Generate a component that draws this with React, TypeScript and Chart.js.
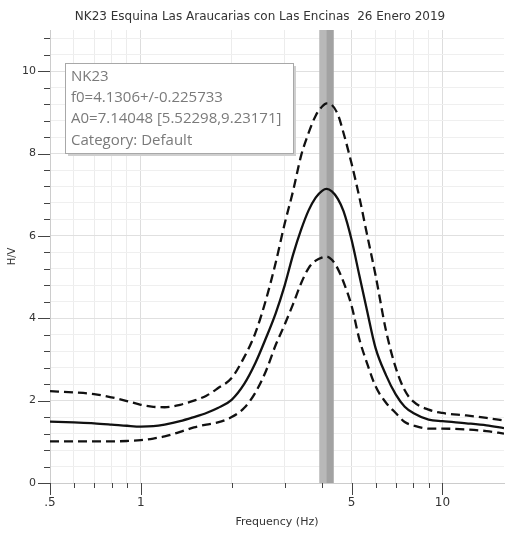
import { useEffect, useRef } from 'react';
import { Chart, registerables } from 'chart.js';

Chart.register(...registerables);

// ---- data ----
const chartTitle = 'NK23 Esquina Las Araucarias con Las Encinas  26 Enero 2019';
const xAxisTitle = 'Frequency (Hz)';
const yAxisTitle = 'H/V';

const frequencies = [0.5, 0.6, 0.7, 0.8, 0.9, 1.0, 1.1, 1.2, 1.35, 1.5, 1.65, 1.8, 2.0, 2.2, 2.4, 2.6, 2.8, 3.0, 3.2, 3.4, 3.6, 3.8, 4.0, 4.13, 4.3, 4.5, 4.7, 5.0, 5.3, 5.6, 6.0, 6.5, 7.0, 7.5, 8, 9, 10, 12, 14, 16];
const hvAverage = [1.49, 1.47, 1.45, 1.42, 1.39, 1.37, 1.38, 1.42, 1.50, 1.60, 1.70, 1.82, 2.02, 2.40, 2.92, 3.52, 4.12, 4.80, 5.55, 6.15, 6.62, 6.93, 7.10, 7.14, 7.08, 6.90, 6.60, 5.90, 5.05, 4.25, 3.28, 2.62, 2.15, 1.85, 1.70, 1.54, 1.50, 1.45, 1.40, 1.33];
const hvUpper = [2.23, 2.20, 2.16, 2.08, 1.99, 1.90, 1.85, 1.84, 1.90, 2.00, 2.12, 2.30, 2.55, 3.05, 3.65, 4.45, 5.35, 6.30, 7.10, 7.95, 8.50, 8.92, 9.15, 9.22, 9.18, 8.95, 8.50, 7.75, 6.95, 6.10, 5.05, 3.70, 2.80, 2.25, 1.98, 1.78, 1.70, 1.64, 1.58, 1.52];
const hvLower = [1.01, 1.01, 1.01, 1.01, 1.02, 1.04, 1.08, 1.13, 1.24, 1.35, 1.42, 1.47, 1.60, 1.82, 2.20, 2.72, 3.35, 3.85, 4.35, 4.85, 5.22, 5.40, 5.48, 5.50, 5.42, 5.20, 4.88, 4.30, 3.50, 2.95, 2.35, 1.95, 1.70, 1.48, 1.40, 1.32, 1.32, 1.30, 1.26, 1.20];

const f0 = 4.1306;
const f0Err = 0.225733;

const legendLines = ['NK23', 'f0=4.1306+/-0.225733', 'A0=7.14048 [5.52298,9.23171]', 'Category: Default'];

const xTickValues = [0.5, 0.6, 0.7, 0.8, 0.9, 1, 2, 3, 4, 5, 6, 7, 8, 9, 10];
const xTickLabels: Record<string, string> = { '0.5': '.5', '1': '1', '5': '5', '10': '10' };
const yMinorStep = 0.4;
const yMax = 11;
const yTickLabels = [0, 2, 4, 6, 8, 10];

const FONT = 'DejaVu Sans';

const titlePlugin = {
  id: 'topTitle',
  afterDraw(chart: any) {
    const { ctx } = chart;
    ctx.save();
    ctx.fillStyle = '#333';
    ctx.font = `12px "${FONT}"`;
    ctx.textAlign = 'center';
    ctx.textBaseline = 'middle';
    ctx.fillText(chartTitle, 260, 17);
    ctx.restore();
  },
};

const bandPlugin = {
  id: 'f0band',
  beforeDatasetsDraw(chart: any) {
    const { ctx, chartArea: a } = chart;
    const x = chart.scales.x;
    const xl = x.getPixelForValue(f0 - f0Err);
    const xr = x.getPixelForValue(f0 + f0Err);
    const xc = x.getPixelForValue(f0);
    ctx.save();
    ctx.fillStyle = '#b8b8b8';
    ctx.fillRect(xl, a.top, xr - xl, a.bottom - a.top);
    ctx.fillStyle = '#a2a2a2';
    ctx.fillRect(xc, a.top, xr - xc, a.bottom - a.top);
    ctx.restore();
  },
};

const ticksPlugin = {
  id: 'customTicks',
  afterDraw(chart: any) {
    const { ctx, chartArea: a } = chart;
    const xs = chart.scales.x;
    const ys = chart.scales.y;
    ctx.save();
    ctx.strokeStyle = '#444';
    ctx.lineWidth = 1;
    ctx.beginPath();
    ys.ticks.forEach((t: any) => {
      const py = Math.round(ys.getPixelForValue(t.value)) + 0.5;
      const major = yTickLabels.includes(t.value);
      const len = major ? 12 : 6;
      ctx.moveTo(a.left - len, py);
      ctx.lineTo(a.left, py);
    });
    xs.ticks.forEach((t: any) => {
      const px = Math.round(xs.getPixelForValue(t.value)) + 0.5;
      const major = xTickLabels[String(t.value)] !== undefined;
      const len = major ? 12 : 5;
      ctx.moveTo(px, a.bottom);
      ctx.lineTo(px, a.bottom + len);
    });
    ctx.stroke();
    ctx.restore();
  },
};

const legendPlugin = {
  id: 'infoBox',
  afterDatasetsDraw(chart: any) {
    const { ctx } = chart;
    const bx = 65, by = 63, bw = 228, bh = 90;
    ctx.save();
    ctx.fillStyle = '#cfcfcf';
    ctx.fillRect(bx + 3, by + 3, bw, bh);
    ctx.fillStyle = '#ffffff';
    ctx.fillRect(bx, by, bw, bh);
    ctx.strokeStyle = '#a8a8a8';
    ctx.lineWidth = 1;
    ctx.strokeRect(bx + 0.5, by + 0.5, bw, bh);
    ctx.fillStyle = '#7a7a7a';
    ctx.font = '15px "Open Sans"';
    ctx.textBaseline = 'middle';
    ctx.textAlign = 'left';
    legendLines.forEach((s, i) => ctx.fillText(s, bx + 6, by + 13.5 + i * 21.3));
    ctx.restore();
  },
};

export default function App() {
  const ref = useRef<HTMLCanvasElement | null>(null);

  useEffect(() => {
    if (!ref.current) return;
    Chart.defaults.font.family = FONT;
    const mk = (vals: number[]) => frequencies.map((f, i) => ({ x: f, y: vals[i] }));
    const common = {
      borderColor: '#111111',
      borderWidth: 2.3,
      pointRadius: 0,
      fill: false,
      cubicInterpolationMode: 'monotone' as const,
    };
    const chart = new Chart(ref.current, {
      type: 'line',
      data: {
        datasets: [
          { ...common, label: 'Upper', data: mk(hvUpper), borderDash: [9, 5] },
          { ...common, label: 'Average', data: mk(hvAverage) },
          { ...common, label: 'Lower', data: mk(hvLower), borderDash: [9, 5] },
        ],
      },
      options: {
        animation: false,
        responsive: false,
        layout: { padding: { left: 0, right: 2, top: 30, bottom: 0 } },
        plugins: {
          legend: { display: false },
          tooltip: { enabled: false },
          title: { display: false },
        },
        scales: {
          x: {
            type: 'logarithmic',
            min: 0.5,
            max: 16,
            afterBuildTicks: (s: any) => {
              s.ticks = xTickValues.map((v) => ({ value: v }));
            },
            afterFit: (s: any) => {
              s.height = 50;
            },
            ticks: {
              autoSkip: false,
              maxRotation: 0,
              color: '#333',
              font: { size: 12 },
              padding: 13,
              callback: (v: any) => xTickLabels[String(v)] ?? '',
            },
            grid: {
              drawTicks: false,
              color: (c: any) => (c.tick && xTickLabels[String(c.tick.value)] !== undefined ? '#dddddd' : '#ececec'),
            },
            border: { color: '#cccccc' },
            title: {
              display: true,
              text: xAxisTitle,
              color: '#333',
              font: { size: 11 },
              padding: { top: 0, bottom: 4 },
            },
          },
          y: {
            type: 'linear',
            min: 0,
            max: yMax,
            afterBuildTicks: (s: any) => {
              const n = Math.floor(yMax / yMinorStep + 1e-9);
              s.ticks = Array.from({ length: n + 1 }, (_, k) => ({ value: Math.round(k * yMinorStep * 10) / 10 }));
            },
            afterFit: (s: any) => {
              s.width = 50;
            },
            ticks: {
              autoSkip: false,
              color: '#333',
              font: { size: 11 },
              padding: 14,
              callback: (v: any) => (yTickLabels.includes(v) ? String(v) : ''),
            },
            grid: {
              drawTicks: false,
              color: (c: any) => (c.tick && yTickLabels.includes(c.tick.value) ? '#e0e0e0' : '#efefef'),
            },
            border: { color: '#cccccc' },
            title: {
              display: true,
              text: yAxisTitle,
              color: '#333',
              font: { size: 10 },
              padding: { top: 6, bottom: 0 },
            },
          },
        },
      },
      plugins: [bandPlugin, legendPlugin, ticksPlugin, titlePlugin],
    });
    return () => chart.destroy();
  }, []);

  return (
    <div style={{ position: 'absolute', left: 0, top: 0, width: 506, height: 533, background: '#fff' }}>
      <canvas ref={ref} width={506} height={533} style={{ display: 'block' }} />
    </div>
  );
}
